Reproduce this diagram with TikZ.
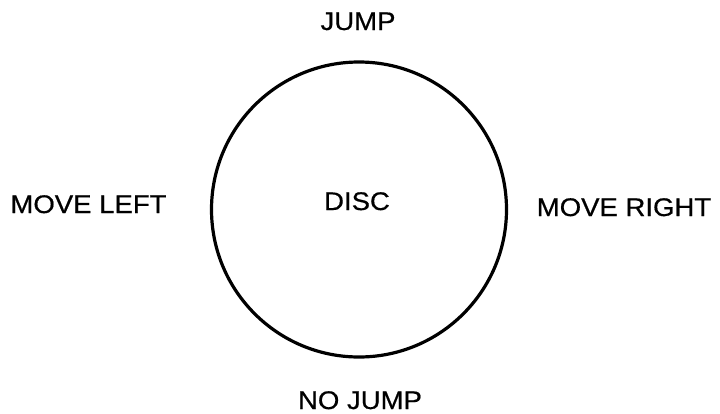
\documentclass[tikz,border=0pt]{standalone}
\usepackage{fontspec}
\newfontfamily\discfont[FakeStretch=1.08,FakeBold=0.6]{Liberation Sans}
\begin{document}
\begin{tikzpicture}[x=10pt,y=-10pt,lbl/.style={font=\discfont\fontsize{25.5pt}{30pt}\selectfont,anchor=base,inner sep=0pt}]
\useasboundingbox (0,0) rectangle (72,41.3);
\draw[line width=3.2pt] (35.9,20.95) circle (14.75);
\node[lbl] (disc) at (35.7,21.0) {DISC};
\node[lbl] (jump) at (35.8,3.0) {JUMP};
\node[lbl] (nojump) at (36.0,40.9) {NO JUMP};
\node[lbl] (left) at (8.85,21.3) {MOVE LEFT};
\node[lbl] (right) at (62.4,21.6) {MOVE RIGHT};
\end{tikzpicture}
\end{document}
